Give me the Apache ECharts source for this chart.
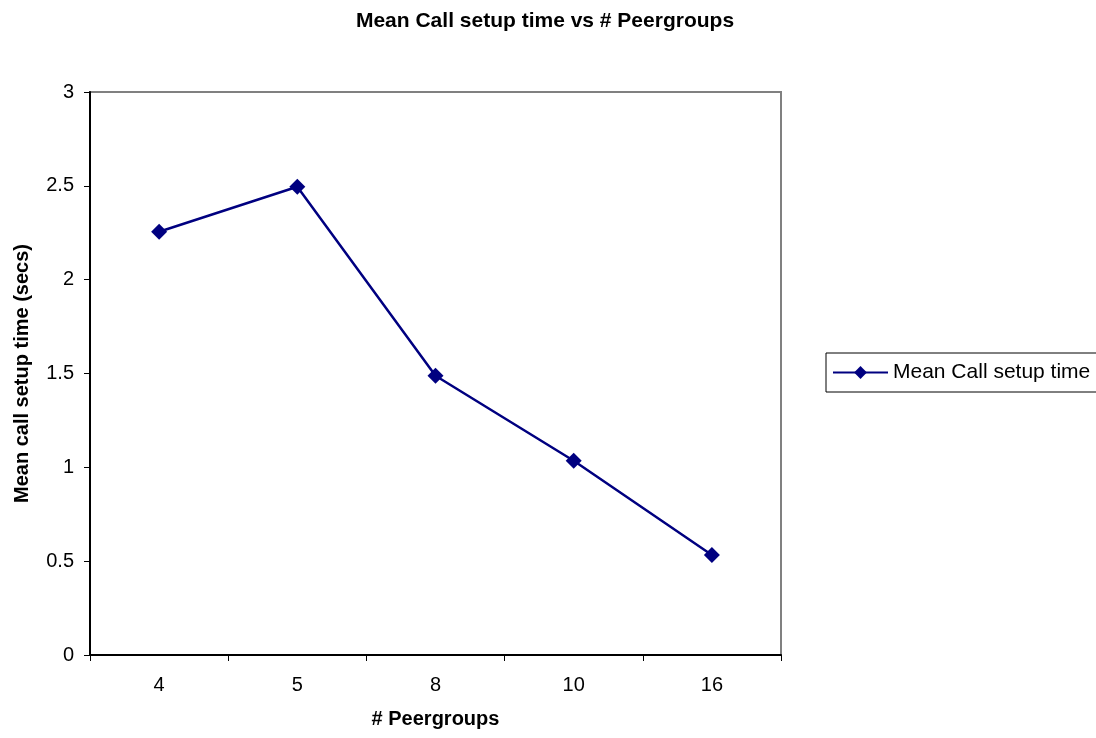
<!DOCTYPE html>
<html><head><meta charset="utf-8">
<script src="https://cdn.jsdelivr.net/npm/echarts@6/dist/echarts.min.js"></script>
<style>html,body{margin:0;padding:0;background:#fff}#c{width:1096px;height:738px}</style>
</head><body><div id="c"></div>
<script>
const categories = ['4', '5', '8', '10', '16'];
const meanCallSetup = [2.255, 2.495, 1.488, 1.035, 0.533];
const seriesName = 'Mean Call setup time';
const titleText = 'Mean Call setup time vs # Peergroups';
const xName = '# Peergroups';
const yName = 'Mean call setup time (secs)';

const chart = echarts.init(document.getElementById('c'));
const F = 'Liberation Sans, Arial, sans-serif';
chart.setOption({
  animation: false,
  title: { text: titleText, left: 540, textAlign: 'center', top: 6,
    textStyle: { fontFamily: F, fontSize: 21, fontWeight: 'bold', color: '#000' } },
  legend: { left: 826, top: 353, orient: 'vertical', padding: [9, 60, 9, 6],
    borderColor: '#000', borderWidth: 1, itemWidth: 55, itemHeight: 16, itemGap: 0,
    textStyle: { fontFamily: F, fontSize: 21, color: '#000' },
    data: [{ name: seriesName }] },
  grid: { left: 90, top: 92, width: 691, height: 563, show: true, borderColor: '#808080', borderWidth: 2,
    containLabel: false, outerBoundsMode: 'none' },
  xAxis: { type: 'category', data: categories, boundaryGap: true,
    name: xName, nameLocation: 'middle', nameGap: 54,
    nameTextStyle: { fontFamily: F, fontSize: 20, fontWeight: 'bold', color: '#000' },
    axisLine: { lineStyle: { color: '#000', width: 2 } },
    axisTick: { show: true, length: 6, lineStyle: { color: '#000' } },
    axisLabel: { fontFamily: F, fontSize: 20, color: '#000', margin: 20 },
    splitLine: { show: false } },
  yAxis: { type: 'value', min: 0, max: 3, interval: 0.5,
    name: yName, nameLocation: 'middle', nameGap: 58, nameRotate: 90,
    nameTextStyle: { fontFamily: F, fontSize: 20, fontWeight: 'bold', color: '#000' },
    axisLine: { show: true, lineStyle: { color: '#000', width: 2 } },
    axisTick: { show: true, length: 6, lineStyle: { color: '#000' } },
    axisLabel: { fontFamily: F, fontSize: 20, color: '#000', margin: 16 },
    splitLine: { show: false } },
  series: [{ name: seriesName, type: 'line', data: meanCallSetup,
    symbol: 'diamond', symbolSize: 16,
    lineStyle: { color: '#000080', width: 2.5 },
    itemStyle: { color: '#000080' } }]
});
</script></body></html>
